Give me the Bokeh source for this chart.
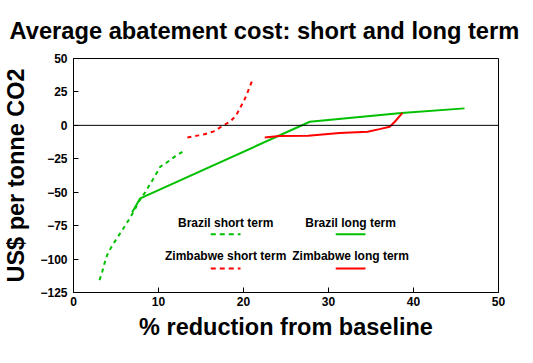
from bokeh.plotting import figure
from bokeh.models import Span, Label, Arrow, FixedTicker, Range1d
from bokeh.embed import file_html
from bokeh.resources import INLINE

# ---- data ----
brazil_short_x = [3.06, 3.38, 3.65, 3.96, 4.44, 5.02, 5.61, 6.2, 6.79, 7.18, 7.68,
                  8.47, 9.06, 9.61, 10.2, 11.1, 12.0, 13.0]
brazil_short_y = [-115.7, -109.5, -103.2, -97.0, -91.2, -85.3, -79.6, -73.8, -67.6,
                  -63.4, -57.1, -49.7, -43.4, -37.7, -31.0, -27.2, -23.0, -19.0]

brazil_long_x = [6.9, 7.85, 27.8, 38.6, 46.0]
brazil_long_y = [-65.0, -54.6, 2.7, 9.2, 12.7]

zimbabwe_short_x = [13.4, 14.7, 15.5, 16.5, 17.4, 18.4, 19.1, 19.6, 20.1, 20.5, 21.0]
zimbabwe_short_y = [-9.0, -7.5, -6.5, -4.5, -1.0, 2.7, 7.0, 13.0, 19.0, 25.0, 33.0]

zimbabwe_long_x = [22.5, 24.2, 27.6, 31.3, 34.6, 36.0, 37.2, 37.8, 38.7]
zimbabwe_long_y = [-9.0, -8.0, -7.8, -5.8, -4.8, -2.8, -1.0, 2.7, 9.4]

x_ticks = [0, 10, 20, 30, 40, 50]
y_ticks = [-125, -100, -75, -50, -25, 0, 25, 50]

series_names = ["Brazil short term", "Brazil long term",
                "Zimbabwe short term", "Zimbabwe long term"]
title_text = "Average abatement cost: short and long term"

GREEN = "#00C000"
RED = "#FF0000"
FONT = "Liberation Sans"

p = figure(frame_width=425, frame_height=234, output_backend="svg",
           toolbar_location=None,
           x_range=Range1d(0, 50), y_range=Range1d(-125, 50),
           min_border_left=66, min_border_right=26, min_border_top=50,
           min_border_bottom=62,
           x_axis_label="% reduction from baseline",
           y_axis_label="US$ per tonne CO2")

p.title.text = title_text
p.title.text_font = FONT
p.title.text_font_size = "23.7px"
p.title.text_font_style = "bold"
p.title.align = "left"
p.title.offset = -64
p.title.standoff = 30
p.title.text_color = "black"

p.grid.visible = False
p.outline_line_color = "black"
p.outline_line_width = 1
p.background_fill_color = "white"
p.border_fill_color = "white"

for ax in (p.xaxis[0], p.yaxis[0]):
    ax.axis_line_color = "black"
    ax.major_tick_line_color = "black"
    ax.major_tick_in = 5
    ax.major_tick_out = 0
    ax.minor_tick_line_color = None
    ax.major_label_text_font = FONT
    ax.major_label_text_font_size = "12px"
    ax.major_label_text_font_style = "bold"
    ax.major_label_text_color = "black"
    ax.axis_label_text_font = FONT
    ax.axis_label_text_font_size = "23.5px"
    ax.axis_label_text_font_style = "bold"
    ax.axis_label_text_color = "black"

p.xaxis.ticker = FixedTicker(ticks=x_ticks)
p.yaxis.ticker = FixedTicker(ticks=y_ticks)
p.xaxis.major_label_standoff = 4
p.xaxis.axis_label_standoff = 5
p.yaxis.major_label_standoff = 6
p.yaxis.axis_label_standoff = 8

p.add_layout(Span(location=0, dimension="width", line_color="black", line_width=1))

p.line(brazil_short_x, brazil_short_y, line_color=GREEN, line_width=2, line_dash="4 4")
p.line(brazil_long_x, brazil_long_y, line_color=GREEN, line_width=2)
p.line(zimbabwe_short_x, zimbabwe_short_y, line_color=RED, line_width=2, line_dash="4 4")
p.line(zimbabwe_long_x, zimbabwe_long_y, line_color=RED, line_width=2)

# ---- hand-made legend: label above a line sample ----
legend_cols = [17.9, 32.6]
legend_text_y = [-73.1, -97.8]
legend_line_y = [-81.5, -107.0]
sample_half = 1.75
styles = [(GREEN, "5 4"), (GREEN, "solid"), (RED, "5 4"), (RED, "solid")]
for i, name in enumerate(series_names):
    row, col = divmod(i, 2)
    cx = legend_cols[col]
    p.add_layout(Label(x=cx, y=legend_text_y[row], text=name, text_align="center",
                       text_baseline="alphabetic", text_font=FONT,
                       text_font_size="12px", text_font_style="bold",
                       text_color="black"))
    color, dash = styles[i]
    p.add_layout(Arrow(x_start=cx - sample_half, y_start=legend_line_y[row],
                       x_end=cx + sample_half, y_end=legend_line_y[row],
                       start=None, end=None, line_color=color, line_width=2,
                       line_dash=dash))

open("out.html", "w").write(file_html(p, INLINE))
